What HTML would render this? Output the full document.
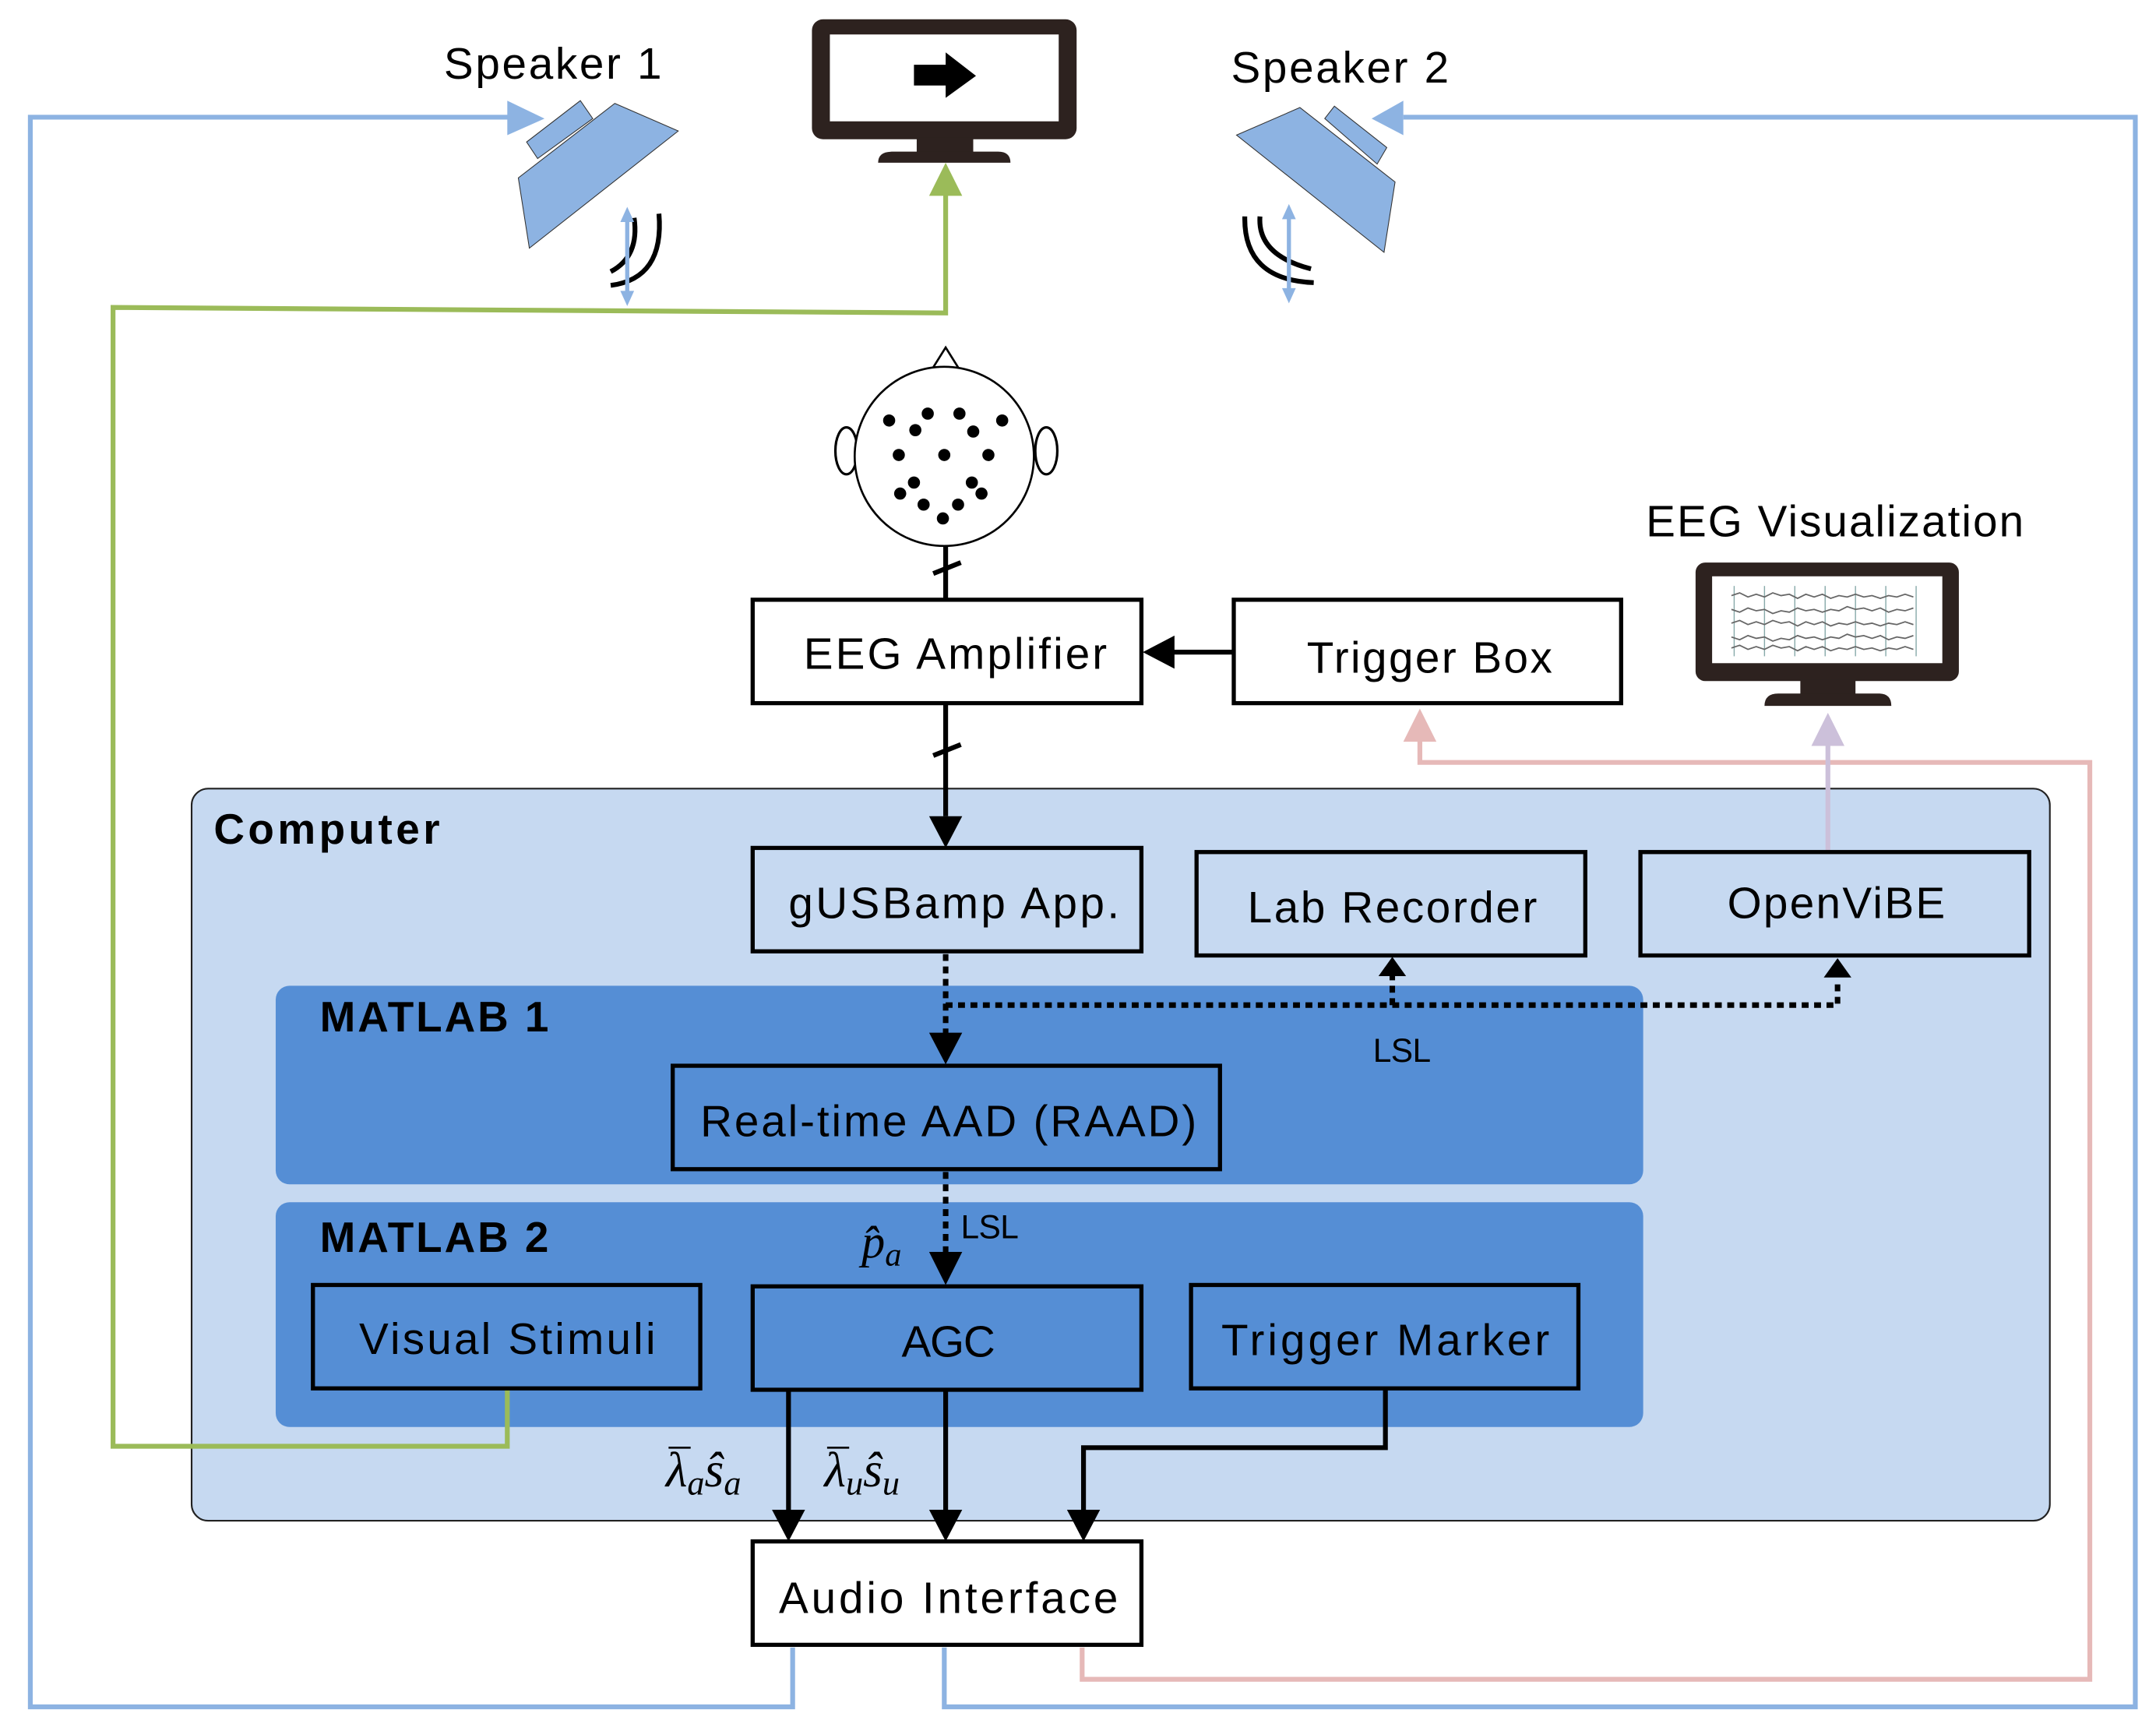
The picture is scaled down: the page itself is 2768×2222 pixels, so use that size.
<!DOCTYPE html>
<html><head><meta charset="utf-8"><style>
html,body{margin:0;padding:0;background:#fff}
svg{display:block}
text{font-family:"Liberation Sans",sans-serif;fill:#000}
.m{font-family:"Liberation Serif",serif;font-style:italic}
</style></head><body>
<svg width="2768" height="2222" viewBox="0 0 1564 1255.5" xmlns="http://www.w3.org/2000/svg">
<rect width="1564" height="1256" fill="#fff"/>

<!-- Computer -->
<rect x="139" y="572" width="1348" height="531" rx="12" fill="#c6d9f1" stroke="#222" stroke-width="1.2"/>
<text x="155" y="612" font-size="31" font-weight="bold" textLength="164">Computer</text>
<rect x="200" y="715" width="992" height="144" rx="10" fill="#558ed5"/>
<rect x="200" y="872" width="992" height="163" rx="10" fill="#558ed5"/>
<text x="232" y="748" font-size="31" font-weight="bold" textLength="166">MATLAB 1</text>
<text x="232" y="908" font-size="31" font-weight="bold" textLength="166">MATLAB 2</text>

<!-- colored lines -->
<g fill="none" stroke-width="3.5">
<polyline points="575,1195 575,1238 22,1238 22,85 372,85" stroke="#8db3e2"/>
<polyline points="685,1195 685,1238 1549,1238 1549,85 1018,85" stroke="#8db3e2"/>
<polyline points="368,1008 368,1049 82,1049 82,223 686,227 686,140" stroke="#9bbb59"/>
<polyline points="785,1195 785,1218 1516,1218 1516,553 1030,553 1030,535" stroke="#e6b9b8"/>
<polyline points="1326,618 1326,538" stroke="#ccc0da"/>
</g>
<polygon points="368,73 395,86 368,98" fill="#8db3e2"/>
<polygon points="1018,73 995,86 1018,98" fill="#8db3e2"/>
<polygon points="674,142 686,118 698,142" fill="#9bbb59"/>
<polygon points="1018,538 1030,514 1042,538" fill="#e6b9b8"/>
<polygon points="1314,541 1326,517 1338,541" fill="#ccc0da"/>

<!-- speakers -->
<g fill="#8db3e2" stroke="#333" stroke-width="0.6">
<polygon points="421,73 430,86 390,115 382,103"/>
<polygon points="446,75 492,95 384,180 376,129"/>
<polygon points="968,77 1006,107 999,119 961,86"/>
<polygon points="943,78 1012,132 1004,183 897,98"/>
</g>
<text x="322" y="57" font-size="32" textLength="158">Speaker 1</text>
<text x="893" y="60" font-size="32" textLength="158">Speaker 2</text>
<g fill="none" stroke="#000" stroke-width="3.5">
<path d="M460,158 Q464,186 443,197"/>
<path d="M478,155 Q482,202 443,207"/>
<path d="M914,157 Q912,185 951,195"/>
<path d="M903,157 Q902,203 953,205"/>
</g>
<g stroke="#8db3e2" stroke-width="3">
<line x1="455" y1="158" x2="455" y2="214"/>
<line x1="935" y1="156" x2="935" y2="212"/>
</g>
<g fill="#8db3e2">
<polygon points="450,161 455,150 460,161"/><polygon points="450,211 455,222 460,211"/>
<polygon points="930,159 935,148 940,159"/><polygon points="930,209 935,220 940,209"/>
</g>

<!-- main monitor -->
<rect x="589" y="14" width="192" height="87" rx="8" fill="#2d221f"/>
<rect x="602" y="25" width="166" height="63" fill="#fff"/>
<rect x="665" y="100" width="41" height="12" fill="#2d221f"/>
<path d="M637,118 Q637,110 647,110 L724,110 Q733,110 733,118 Z" fill="#2d221f"/>
<polygon points="663,47 686,47 686,38 708,55 686,71 686,62 663,62" fill="#000"/>

<!-- head -->
<polygon points="676,268 686,252 696,268" fill="#fff" stroke="#000" stroke-width="1.5"/>
<ellipse cx="614" cy="327" rx="8" ry="17" fill="#fff" stroke="#000" stroke-width="1.8"/>
<ellipse cx="759" cy="327" rx="8" ry="17" fill="#fff" stroke="#000" stroke-width="1.8"/>
<circle cx="685" cy="331" r="65" fill="#fff" stroke="#000" stroke-width="1.5"/>
<g fill="#000">
<circle cx="645" cy="305" r="4.4"/><circle cx="673" cy="300" r="4.4"/><circle cx="696" cy="300" r="4.4"/><circle cx="727" cy="305" r="4.4"/>
<circle cx="664" cy="312" r="4.4"/><circle cx="706" cy="313" r="4.4"/>
<circle cx="652" cy="330" r="4.4"/><circle cx="685" cy="330" r="4.4"/><circle cx="717" cy="330" r="4.4"/>
<circle cx="663" cy="350" r="4.4"/><circle cx="705" cy="350" r="4.4"/>
<circle cx="653" cy="358" r="4.4"/><circle cx="712" cy="358" r="4.4"/>
<circle cx="670" cy="366" r="4.4"/><circle cx="695" cy="366" r="4.4"/><circle cx="684" cy="376" r="4.4"/>
</g>

<!-- black connectors -->
<g stroke="#000" stroke-width="3.5" fill="none">
<line x1="686" y1="396" x2="686" y2="435"/>
<line x1="677" y1="416" x2="697" y2="408"/>
<line x1="686" y1="510" x2="686" y2="592"/>
<line x1="677" y1="548" x2="697" y2="540"/>
<line x1="895" y1="473" x2="850" y2="473"/>
<line x1="572" y1="1008" x2="572" y2="1096"/>
<line x1="686" y1="1008" x2="686" y2="1096"/>
<polyline points="1005,1007 1005,1050 786,1050 786,1096"/>
</g>
<g fill="#000">
<polygon points="674,592 698,592 686,615"/>
<polygon points="852,461 852,485 829,473"/>
<polygon points="560,1095 584,1095 572,1118"/>
<polygon points="674,1095 698,1095 686,1118"/>
<polygon points="774,1095 798,1095 786,1118"/>
<polygon points="674,749 698,749 686,772"/>
<polygon points="674,908 698,908 686,932"/>
<polygon points="1000,708 1020,708 1010,694"/>
<polygon points="1323,709 1343,709 1333,695"/>
</g>
<g stroke="#000" stroke-width="4" stroke-dasharray="5,4" fill="none">
<line x1="686" y1="692" x2="686" y2="750"/>
<polyline points="686,729 1333,729 1333,710"/>
<line x1="1010" y1="729" x2="1010" y2="708"/>
<line x1="686" y1="850" x2="686" y2="909"/>
</g>
<text x="996" y="770" font-size="24" textLength="42">LSL</text>
<text x="697" y="898" font-size="24" textLength="42">LSL</text>
<text x="625" y="912" font-size="34" class="m">p̂<tspan font-size="24" dy="6">a</tspan></text>
<!-- lambda labels -->
<g stroke="#000" stroke-width="1.5"><line x1="485" y1="1050" x2="501" y2="1050"/><line x1="600" y1="1050" x2="616" y2="1050"/></g>
<text x="483" y="1078" font-size="36" class="m">λ<tspan font-size="25" dy="6">a</tspan><tspan dy="-6">ŝ</tspan><tspan font-size="25" dy="6">a</tspan></text>
<text x="598" y="1078" font-size="36" class="m">λ<tspan font-size="25" dy="6">u</tspan><tspan dy="-6">ŝ</tspan><tspan font-size="25" dy="6">u</tspan></text>

<!-- boxes -->
<g stroke="#000" stroke-width="3">
<rect x="546" y="435" width="282" height="75" fill="#fff"/>
<rect x="895" y="435" width="281" height="75" fill="#fff"/>
<rect x="546" y="615" width="282" height="75" fill="none"/>
<rect x="868" y="618" width="282" height="75" fill="none"/>
<rect x="1190" y="618" width="282" height="75" fill="none"/>
<rect x="488" y="773" width="397" height="75" fill="none"/>
<rect x="227" y="932" width="281" height="75" fill="none"/>
<rect x="546" y="933" width="282" height="75" fill="none"/>
<rect x="864" y="932" width="281" height="75" fill="none"/>
<rect x="546" y="1118" width="282" height="75" fill="#fff"/>
</g>
<g font-size="32" text-anchor="middle">
<text x="693" y="485" textLength="220">EEG Amplifier</text>
<text x="1037" y="488" textLength="178">Trigger Box</text>
<text x="692" y="666" textLength="240">gUSBamp App.</text>
<text x="1010" y="669" textLength="210">Lab Recorder</text>
<text x="1332" y="666" textLength="158">OpenViBE</text>
<text x="688" y="824" textLength="360">Real-time AAD (RAAD)</text>
<text x="368" y="982" textLength="215">Visual Stimuli</text>
<text x="688" y="984" textLength="68">AGC</text>
<text x="1005" y="983" textLength="238">Trigger Marker</text>
<text x="688" y="1170" textLength="246">Audio Interface</text>
<text x="1331" y="389" textLength="274">EEG Visualization</text>
</g>

<!-- EEG monitor -->
<rect x="1230" y="408" width="191" height="86" rx="7" fill="#2d221f"/>
<rect x="1242" y="418" width="167" height="63" fill="#fff"/>
<rect x="1306" y="493" width="40" height="11" fill="#2d221f"/>
<path d="M1280,512 Q1280,503 1290,503 L1363,503 Q1372,503 1372,512 Z" fill="#2d221f"/>
<g stroke="#8aa" stroke-width="0.8" fill="none">
<line x1="1258" y1="425" x2="1258" y2="476"/><line x1="1280" y1="425" x2="1280" y2="476"/><line x1="1302" y1="425" x2="1302" y2="476"/><line x1="1324" y1="425" x2="1324" y2="476"/><line x1="1346" y1="425" x2="1346" y2="476"/><line x1="1368" y1="425" x2="1368" y2="476"/><line x1="1390" y1="425" x2="1390" y2="476"/>
</g>
<g stroke="#666" stroke-width="1" fill="none">
<path d="M1256,432 l6,-2 6,3 6,-2 6,2 6,-3 6,2 6,-1 6,3 6,-3 6,2 6,-2 6,3 6,-2 6,1 6,-2 6,2 6,-1 6,2 6,-2 6,1 6,-2 6,2"/>
<path d="M1256,442 l6,2 6,-3 6,2 6,-1 6,3 6,-2 6,1 6,-3 6,2 6,-1 6,2 6,-2 6,1 6,-3 6,2 6,-1 6,2 6,-2 6,3 6,-2 6,1 6,-2"/>
<path d="M1256,452 l6,-2 6,3 6,-2 6,2 6,-3 6,2 6,-1 6,3 6,-3 6,2 6,-2 6,3 6,-2 6,1 6,-2 6,2 6,-1 6,2 6,-2 6,1 6,-2 6,2"/>
<path d="M1256,462 l6,2 6,-3 6,2 6,-1 6,3 6,-2 6,1 6,-3 6,2 6,-1 6,2 6,-2 6,1 6,-3 6,2 6,-1 6,2 6,-2 6,3 6,-2 6,1 6,-2"/>
<path d="M1256,470 l6,-2 6,3 6,-2 6,2 6,-3 6,2 6,-1 6,3 6,-3 6,2 6,-2 6,3 6,-2 6,1 6,-2 6,2 6,-1 6,2 6,-2 6,1 6,-2 6,2"/>
</g>
</svg>
</body></html>
